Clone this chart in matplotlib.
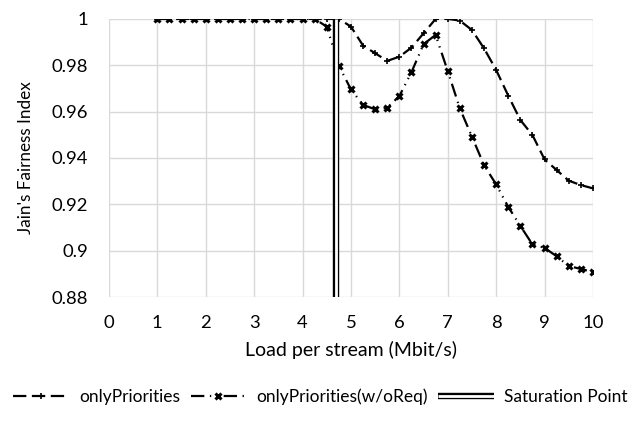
import numpy as np
import matplotlib
matplotlib.use('Agg')
import matplotlib.pyplot as plt
import matplotlib.patheffects as pe
from matplotlib.ticker import FuncFormatter

# 負荷 (Mbit/s)
load = [1.0, 1.25, 1.5, 1.75, 2.0, 2.25, 2.5, 2.75, 3.0, 3.25, 3.5, 3.75,
        4.0, 4.25, 4.5, 4.75, 5.0, 5.25, 5.5, 5.75, 6.0, 6.25, 6.5, 6.75,
        7.0, 7.25, 7.5, 7.75, 8.0, 8.25, 8.5, 8.75, 9.0, 9.25, 9.5, 9.75, 10.0]

only_prio = [1.0] * 16 + [0.9967, 0.9885, 0.9852, 0.9819, 0.9837, 0.9876, 0.9938, 1.0,
                          1.0, 0.9993, 0.9952, 0.9873, 0.978, 0.9669, 0.9564, 0.9499,
                          0.9394, 0.9348, 0.9302, 0.9283, 0.9269]

only_prio_noreq = [1.0] * 14 + [0.9967, 0.9798, 0.9696, 0.9629, 0.9610, 0.9617, 0.9667,
                                0.9770, 0.9891, 0.9931, 0.9775, 0.9614, 0.9492, 0.9369,
                                0.9286, 0.9189, 0.9107, 0.9027, 0.9012, 0.8976, 0.8934,
                                0.8921, 0.8908]

saturation = 4.70

plt.rcParams['font.family'] = ['Lato', 'DejaVu Sans']

fig = plt.figure(figsize=(6.41, 4.21), dpi=100)
ax = fig.add_axes([0.170, 0.2945, 0.755, 0.6605])

ax.plot(load, only_prio, color='black', lw=1.6, dashes=(6, 2.5),
        marker='+', ms=5, mew=1.2, label='onlyPriorities', zorder=3)
ax.plot(load, only_prio_noreq, color='black', lw=1.6,
        dashes=(6, 2.5, 0.6, 2.5, 0.6, 2.5),
        marker='x', ms=5, mew=2.2, label='onlyPriorities(w/oReq)', zorder=4)
ax.plot([saturation, saturation], [0.88, 1.0], color='white', lw=2.0,
        solid_capstyle='butt', label='Saturation Point', zorder=5,
        path_effects=[pe.Stroke(linewidth=4.6, foreground='black'), pe.Normal()])

ax.set_xlim(0, 10)
ax.set_ylim(0.88, 1.0)
ax.set_xticks(np.arange(0, 11, 1))
ax.set_yticks([0.88, 0.9, 0.92, 0.94, 0.96, 0.98, 1.0])
ax.yaxis.set_major_formatter(FuncFormatter(lambda v, p: '%g' % round(v, 2)))
ax.grid(True, color='#d9d9d9', lw=1)
ax.set_axisbelow(True)
for s in ax.spines.values():
    s.set_visible(False)
ax.tick_params(length=0, labelsize=13.3, pad=13)
ax.tick_params(axis='y', pad=15)

ax.set_xlabel('Load per stream (Mbit/s)', fontsize=14, labelpad=7)
ax.set_ylabel("Jain's Fairness Index", fontsize=12.3, labelpad=13)

fig.legend(loc='lower center', bbox_to_anchor=(0.5, 0.0), ncol=3, frameon=False,
           fontsize=12.5, handlelength=3.2, columnspacing=0.6, handletextpad=0.6)

plt.savefig('out.png', dpi=100)
plt.close()
